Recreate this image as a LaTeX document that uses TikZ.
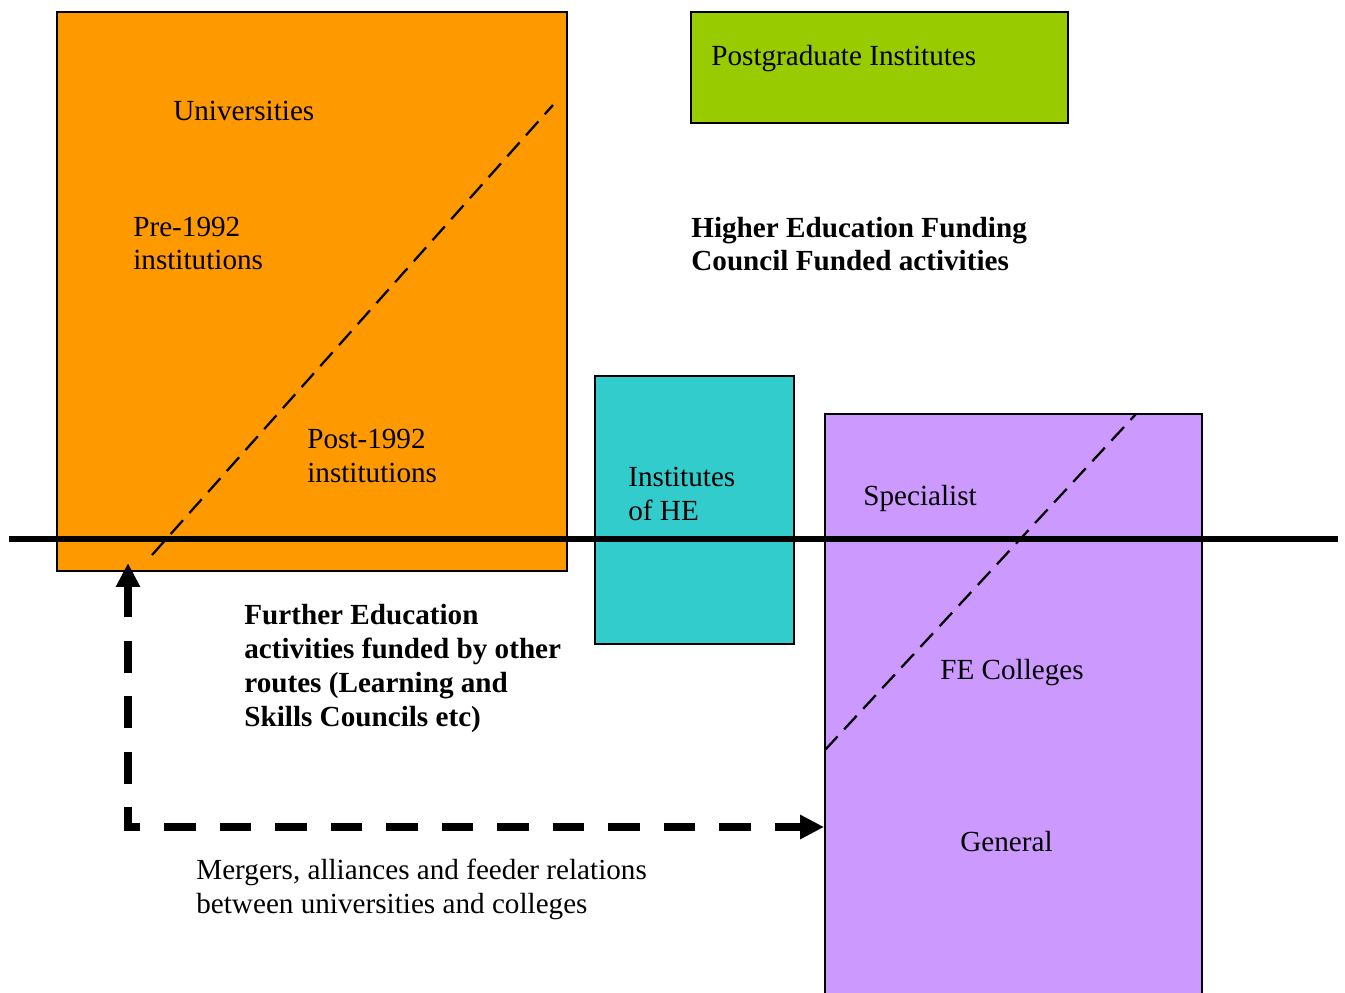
\documentclass[tikz,border=0pt]{standalone}
\usepackage{fontspec}
\setmainfont{Liberation Serif}
\usetikzlibrary{arrows.meta}
\definecolor{uniorange}{HTML}{FF9900}
\definecolor{pggreen}{HTML}{99CC00}
\definecolor{iheteal}{HTML}{33CCCC}
\definecolor{fepurple}{HTML}{CC99FF}
\tikzset{
  box/.style={draw, line width=1.1pt, inner sep=0pt},
  lbl/.style={anchor=base west, inner sep=0pt, align=left, font=\fontsize{16.6}{19.3}\selectfont},
  blbl/.style={lbl, font=\fontsize{16.6}{19.3}\selectfont\bfseries},
  split/.style={line width=1.3pt, dash pattern=on 10.5pt off 5.5pt},
  route/.style={line width=4.5pt, dash pattern=on 18pt off 13.6pt, {Triangle[length=13.6pt,width=13pt]}-{Triangle[length=13.6pt,width=13pt]}}
}
\begin{document}
\begin{tikzpicture}[x=0.02cm,y=-0.02cm]
\clip (0,0) rectangle (1345,993);
\node[box, fill=uniorange, minimum width=10.2cm, minimum height=11.18cm] (univ) at (312,291.5) {};
\node[box, fill=pggreen, minimum width=7.54cm, minimum height=2.22cm] (pg) at (879.5,67.5) {};
\node[box, fill=iheteal, minimum width=3.98cm, minimum height=5.36cm] (ihe) at (694.5,510) {};
\node[box, fill=fepurple, minimum width=7.54cm, minimum height=12.12cm] (fecol) at (1013.5,717) {};

\coordinate (u1) at (152,555);
\coordinate (u2) at (553,105);
\coordinate (f1) at (825,750);
\coordinate (f2) at (1136,414);
\draw[split] (u1) -- (u2);
\draw[split] (f1) -- (f2);

\coordinate (hl) at (9,539);
\coordinate (hr) at (1338,539);
\draw[line width=3.2pt] (hl) -- (hr);

\coordinate (mtop) at (128,563);
\coordinate (mbend) at (128,827);
\draw[route] (mtop) -- (mbend) -- (mbend -| fecol.west);

% base anchor of a multi-line label sits on its last line
\node[lbl] (unis) at (173,121) {Universities};
\node[lbl] (pre) at (133,270) {Pre-1992\\institutions};
\node[lbl] (post) at (307,482) {Post-1992\\institutions};
\node[lbl] (pgtxt) at (711,66) {Postgraduate Institutes};
\node[blbl] (hefc) at (691,271) {Higher Education Funding\\Council Funded activities};
\node[lbl] (ihetxt) at (628,520) {Institutes\\of HE};
\node[lbl] (spec) at (863,505) {Specialist};
\node[lbl] (fetxt) at (940,679) {FE Colleges};
\node[lbl] (gen) at (960,851) {General};
\node[blbl] (furth) at (244,726) {Further Education\\activities funded by other\\routes (Learning and\\Skills Councils etc)};
\node[lbl] (merg) at (196,913) {Mergers, alliances and feeder relations\\between universities and colleges};
\end{tikzpicture}
\end{document}
